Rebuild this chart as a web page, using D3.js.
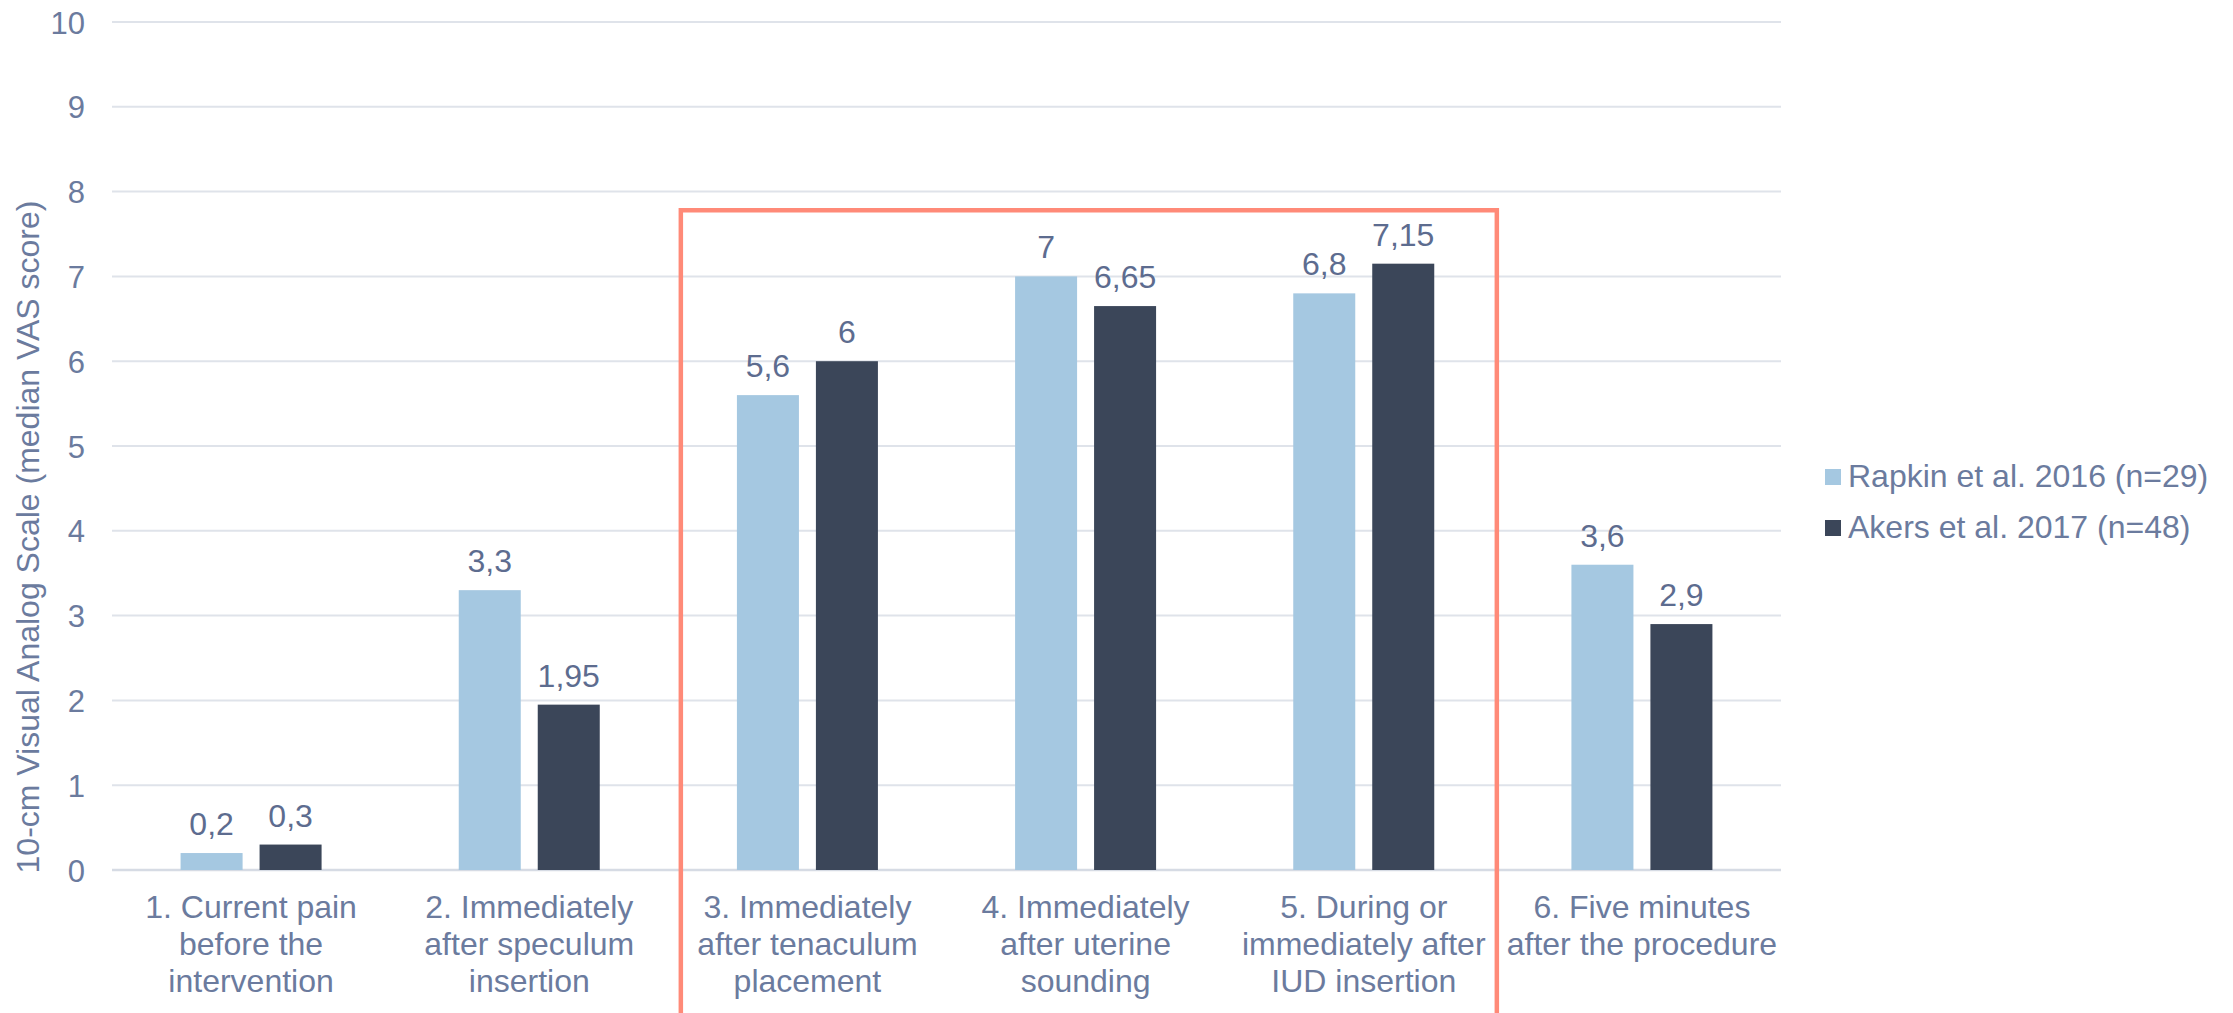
<!DOCTYPE html>
<html>
<head>
<meta charset="utf-8">
<script src="https://cdn.jsdelivr.net/npm/d3@7"></script>
<style>
  html, body { margin: 0; padding: 0; background: #ffffff; }
  svg { display: block; }
  text { font-family: "Liberation Sans", Arial, sans-serif; }
</style>
</head>
<body>
<svg id="chart" width="2233" height="1013"></svg>
<script>
// ---- data ----
const categories = [
  ["1. Current pain", "before the", "intervention"],
  ["2. Immediately", "after speculum", "insertion"],
  ["3. Immediately", "after tenaculum", "placement"],
  ["4. Immediately", "after uterine", "sounding"],
  ["5. During or", "immediately after", "IUD insertion"],
  ["6. Five minutes", "after the procedure"]
];
const seriesNames = ["Rapkin et al. 2016 (n=29)", "Akers et al. 2017 (n=48)"];
const rapkin = [0.2, 3.3, 5.6, 7, 6.8, 3.6];
const akers = [0.3, 1.95, 6, 6.65, 7.15, 2.9];
const rapkinLabels = ["0,2", "3,3", "5,6", "7", "6,8", "3,6"];
const akersLabels = ["0,3", "1,95", "6", "6,65", "7,15", "2,9"];
const yTicks = [0, 1, 2, 3, 4, 5, 6, 7, 8, 9, 10];
const highlighted = [2, 4]; // first and last category index in the red box

// ---- layout ----
const W = 2233, H = 1013;
const plot = { left: 112, right: 1781, top: 22, bottom: 870 };
const colors = ["#a5c8e1", "#3b4659"];
const textColor = "#6b7b9e";
const valueColor = "#5d6c8f";

const svg = d3.select("#chart");

const x0 = d3.scaleBand()
  .domain(d3.range(categories.length))
  .range([plot.left, plot.right])
  .paddingInner(0).paddingOuter(0);

const bw = x0.bandwidth();
const x1 = d3.scaleBand()
  .domain([0, 1])
  .range([bw / 2 - 70.5, bw / 2 + 70.5])
  .paddingInner(0.215).paddingOuter(0);

const y = d3.scaleLinear().domain([0, 10]).range([plot.bottom, plot.top]);

// gridlines
svg.append("g")
  .selectAll("line")
  .data(yTicks)
  .join("line")
  .attr("x1", plot.left).attr("x2", plot.right)
  .attr("y1", d => y(d)).attr("y2", d => y(d))
  .attr("stroke", d => d === 0 ? "#d6dbe4" : "#dfe3ea")
  .attr("stroke-width", d => d === 0 ? 2.5 : 2);

// y axis labels
const yAxis = d3.axisLeft(y).tickValues(yTicks).tickSize(0).tickPadding(0).tickFormat(d3.format("d"));
const yg = svg.append("g").attr("transform", `translate(85,0)`).call(yAxis);
yg.select(".domain").remove();
yg.selectAll("text")
  .attr("fill", textColor)
  .style("font-size", "31px")
  .attr("dy", "0.36em");

// y title
svg.append("text")
  .attr("transform", `translate(39,537) rotate(-90)`)
  .attr("text-anchor", "middle")
  .attr("fill", textColor)
  .style("font-size", "32px")
  .text("10-cm Visual Analog Scale (median VAS score)");

// bars
const data = categories.map((c, i) => ({
  i,
  vals: [
    { s: 0, v: rapkin[i], label: rapkinLabels[i] },
    { s: 1, v: akers[i], label: akersLabels[i] }
  ]
}));

const groups = svg.append("g")
  .selectAll("g")
  .data(data)
  .join("g")
  .attr("transform", d => `translate(${x0(d.i)},0)`);

groups.selectAll("rect")
  .data(d => d.vals)
  .join("rect")
  .attr("x", d => x1(d.s))
  .attr("width", x1.bandwidth())
  .attr("y", d => y(d.v))
  .attr("height", d => y(0) - y(d.v))
  .attr("fill", d => colors[d.s]);

groups.selectAll("text.val")
  .data(d => d.vals)
  .join("text")
  .attr("class", "val")
  .attr("x", d => x1(d.s) + x1.bandwidth() / 2)
  .attr("y", d => y(d.v) - 18)
  .attr("text-anchor", "middle")
  .attr("fill", valueColor)
  .style("font-size", "32px")
  .text(d => d.label);

// x labels
const xl = svg.append("g")
  .selectAll("text")
  .data(categories)
  .join("text")
  .attr("x", (d, i) => x0(i) + bw / 2)
  .attr("y", 918)
  .attr("text-anchor", "middle")
  .attr("fill", textColor)
  .style("font-size", "32px");
xl.selectAll("tspan")
  .data(d => d)
  .join("tspan")
  .attr("x", function () { return d3.select(this.parentNode).attr("x"); })
  .attr("dy", (d, j) => j === 0 ? 0 : 37)
  .text(d => d);

// red highlight box (open at the bottom)
const bx0 = x0(highlighted[0]) + 12.5;
const bx1 = x0(highlighted[1]) + bw - 6;
const by = y(7.78);
svg.append("path")
  .attr("d", `M${bx0},${H + 10} L${bx0},${by} L${bx1},${by} L${bx1},${H + 10}`)
  .attr("fill", "none")
  .attr("stroke", "#ff8a78")
  .attr("stroke-width", 4.5);

// legend
const legend = svg.append("g").attr("transform", "translate(1825,469)");
const li = legend.selectAll("g")
  .data(seriesNames)
  .join("g")
  .attr("transform", (d, i) => `translate(0,${i * 51})`);
li.append("rect")
  .attr("width", 16).attr("height", 16)
  .attr("fill", (d, i) => colors[i]);
li.append("text")
  .attr("x", 23).attr("y", 17.5)
  .attr("fill", textColor)
  .style("font-size", "32px")
  .text(d => d);
</script>
</body>
</html>
